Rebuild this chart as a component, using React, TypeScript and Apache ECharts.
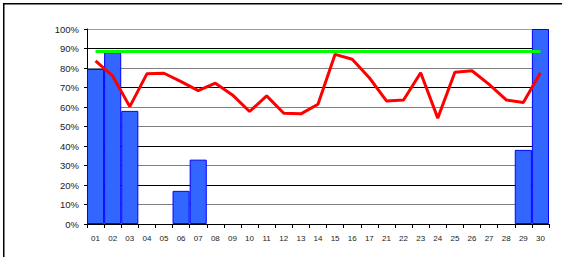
import React, { useEffect, useRef } from "react";
import * as echarts from "echarts";

const categories = [
  "01", "02", "03", "04", "05", "06", "07", "08", "09", "10", "11", "12", "13", "14", "15", "16", "17",
  "21", "22", "23", "24", "25", "26", "27", "28", "29", "30",
];
const barValues: (number | null)[] = [
  79.5, 88, 58, null, null, 17, 33, null, null, null, null, null, null, null, null, null, null,
  null, null, null, null, null, null, null, null, 38, 100,
];
const redValues = [
  83.6, 75.9, 60.2, 77, 77.3, 73, 68.4, 72.2, 66.2, 57.7, 65.7, 56.8, 56.5, 61.4, 87, 84.5, 75,
  63.1, 63.6, 77.6, 54.3, 77.8, 78.6, 71.6, 63.6, 62.3, 77.6,
];
const targetValue = 88.4;
const greenValues = categories.map(() => targetValue);
const yTicks = [0, 10, 20, 30, 40, 50, 60, 70, 80, 90, 100];

const gridColors = ["#000000", "#808080", "#000000", "#808080", "#000000", "#808080", "#808080", "#000000", "#808080", "#000000", "#9a9a9a"];

export default function App() {
  const ref = useRef<HTMLDivElement>(null);
  useEffect(() => {
    if (!ref.current) return;
    const chart = echarts.init(ref.current, null, { renderer: "svg" });
    chart.setOption({
      animation: false,
      backgroundColor: "#ffffff",
      textStyle: { fontFamily: "Liberation Sans, Arial, sans-serif" },
      grid: { left: 87, top: 29, right: 13, bottom: 33 },
      xAxis: {
        type: "category",
        data: categories,
        boundaryGap: true,
        axisLine: { show: true, lineStyle: { color: "#000", width: 1 } },
        axisTick: { show: true, alignWithLabel: false, length: 4, lineStyle: { color: "#000" } },
        axisLabel: { color: "#222", fontSize: 8, margin: 10, interval: 0 },
        splitLine: { show: false },
      },
      yAxis: {
        type: "value",
        min: yTicks[0],
        max: yTicks[yTicks.length - 1],
        interval: 10,
        axisLine: { show: true, lineStyle: { color: "#000", width: 1 } },
        axisTick: { show: true, length: 3, lineStyle: { color: "#000" } },
        axisLabel: { color: "#222", fontSize: 9.5, margin: 8, formatter: "{value}%" },
        splitLine: { show: true, lineStyle: { color: gridColors, width: 1 } },
      },
      series: [
        {
          type: "bar",
          data: barValues,
          barCategoryGap: "0%",
          itemStyle: { color: "#3366ff", borderColor: "#0000ff", borderWidth: 1 },
          z: 2,
        },
        {
          type: "line",
          data: greenValues,
          symbol: "none",
          lineStyle: { color: "#00ff00", width: 3 },
          itemStyle: { color: "#00ff00" },
          z: 3,
        },
        {
          type: "line",
          data: redValues,
          symbol: "none",
          lineStyle: { color: "#ff0000", width: 3 },
          itemStyle: { color: "#ff0000" },
          z: 4,
        },
      ],
      graphic: [
        { type: "line", shape: { x1: 3.75, y1: 3, x2: 3.75, y2: 257 }, style: { stroke: "#000", lineWidth: 1.5 } },
        { type: "line", shape: { x1: 3, y1: 3.75, x2: 562, y2: 3.75 }, style: { stroke: "#000", lineWidth: 1.5 } },
      ],
    });
    return () => chart.dispose();
  }, []);
  return (
    <div
      ref={ref}
      style={{ position: "absolute", left: 0, top: 0, width: 562, height: 257 }}
    />
  );
}
